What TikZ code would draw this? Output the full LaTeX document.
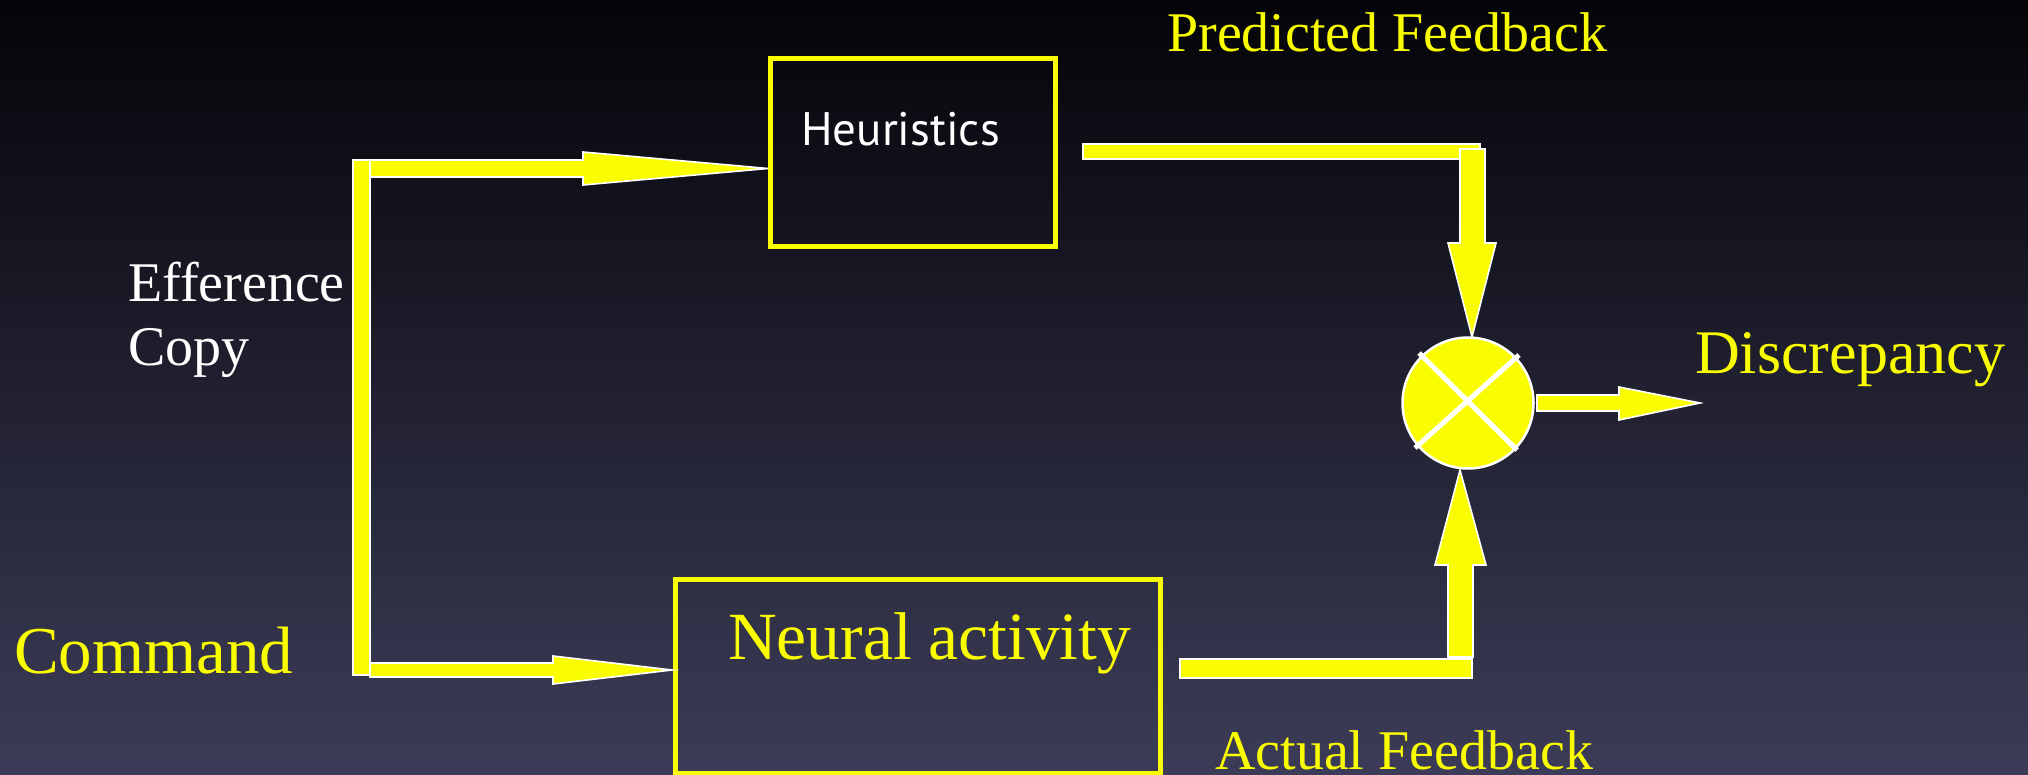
\documentclass[tikz,border=0pt]{standalone}
\usepackage{fontspec}
\setmainfont{Liberation Serif}
\newfontfamily\hfont{PT Sans}
\usetikzlibrary{calc}
\definecolor{bgtop}{RGB}{4,4,8}
\definecolor{bgmid}{RGB}{30,28,50}
\definecolor{bgbot}{RGB}{60,60,88}
\definecolor{yel}{RGB}{250,253,0}
\tikzset{
  blk/.style={fill=yel, draw=white, line width=1.6pt, line join=miter},
  box/.style={draw=yel, line width=5pt, rectangle, inner sep=0pt},
  lbl/.style={anchor=base west, inner sep=0pt, text=yel},
  wlbl/.style={anchor=base west, inner sep=0pt, text=white},
}
\newcommand{\fs}[1]{\fontsize{#1}{#1}\selectfont}
\begin{document}
\begin{tikzpicture}[x=1pt,y=-1pt]
\useasboundingbox (0,0) rectangle (2028,775);
\shade[top color=bgtop, middle color=bgmid, bottom color=bgbot] (0,0) rectangle (2028,775);

% boxes
\node[box, minimum width=285pt, minimum height=188pt] (heur) at (913,152.5) {};
\node[box, minimum width=485pt, minimum height=193.5pt] (neural) at (918,676.25) {};
\node[wlbl, font=\hfont\fs{47}] (heurtxt) at (801,146) {Heuristics};
\node[lbl, font=\fs{67.5}] (neurtxt) at (728,659) {Neural activity};

% comparator
\node[circle, fill=yel, draw=white, line width=2.5pt, minimum size=131pt, inner sep=0pt] (cmp) at (1468,403) {};
\draw[white, line width=5pt] ($(cmp.center)+(-49,-50)$) -- ($(cmp.center)+(49,47)$);
\draw[white, line width=5pt] ($(cmp.center)+(51,-48)$) -- ($(cmp.center)+(-53,45)$);

% named ends
\coordinate (tipH) at (768,168.5);
\coordinate (tipN) at (672,670);
\coordinate (tipD) at (1472,337);
\coordinate (tipU) at (1460,470);
\coordinate (tipR) at (1700,403);

% efference copy branch
\draw[blk] (353,160) rectangle (370,675);
\draw[blk] (370,160) -- (583,160) -- (583,152) -- (tipH) -- (583,185) -- (583,177) -- (370,177) -- cycle;
\draw[blk] (370,663) -- (553,663) -- (553,656) -- (tipN) -- (553,684) -- (553,677) -- (370,677) -- cycle;

% predicted feedback path
\draw[blk] (1083,144) rectangle (1480,159);
\draw[blk] (1460,149) -- (1485,149) -- (1485,243) -- (1496,243) -- (tipD) -- (1448,243) -- (1460,243) -- cycle;

% actual feedback path
\draw[blk] (1448,657) -- (1448,565) -- (1435,565) -- (tipU) -- (1486,565) -- (1473,565) -- (1473,657) -- cycle;
\draw[blk] (1180,659) rectangle (1472,678);

% discrepancy output
\draw[blk] (1537,395) -- (1619,395) -- (1619,387) -- (tipR) -- (1619,420) -- (1619,411) -- (1537,411) -- cycle;

% labels
\node[lbl, font=\fs{56}] (pred) at (1167,52) {Predicted Feedback};
\node[lbl, font=\fs{56}] (act) at (1215,769) {Actual Feedback};
\node[lbl, font=\fs{62}] (disc) at (1695,373) {Discrepancy};
\node[lbl, font=\fs{67}] (cmd) at (14,673) {Command};
\node[wlbl, font=\fs{56}] (eff1) at (128,302) {Efference};
\node[wlbl, font=\fs{56}] (eff2) at (128,365) {Copy};
\end{tikzpicture}
\end{document}
